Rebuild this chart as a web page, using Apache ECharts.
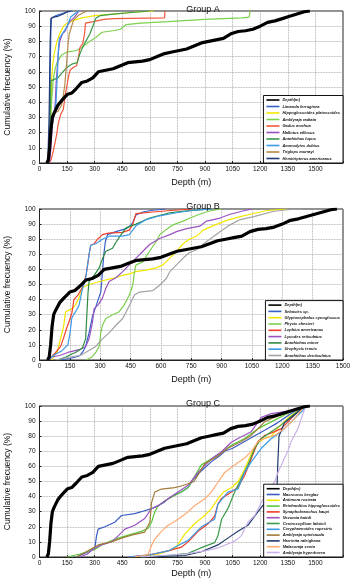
<!DOCTYPE html>
<html>
<head>
<meta charset="utf-8">
<script src="https://cdn.jsdelivr.net/npm/echarts@6/dist/echarts.min.js"></script>
<style>
  html, body { margin: 0; padding: 0; background: #fff; }
  #chart { width: 350px; height: 581px; }
</style>
</head>
<body>
<div id="chart"></div>
<script>
// depth sampled, same curve in every group: [depth m, cumulative %]
const depthCurve = [[40,0],[48,2],[55,10],[62,22],[70,30],[80,33],[100,38],[120,41],[150,45],[175,46],[200,49],[230,53],[260,54],[290,56],[320,60],[360,61],[400,62],[440,64],[480,66],[520,66.5],[560,67],[600,68],[640,70],[680,72],[720,73],[760,74],[800,75],[840,77],[880,79],[920,80],[960,81],[1000,82],[1040,85],[1080,86.5],[1120,87],[1160,88],[1200,90],[1240,92.5],[1280,93.5],[1320,95],[1360,96.5],[1400,98],[1440,99.5],[1470,100]]

// Group A
const limanda = [[48,0],[55,20],[58,60],[62,88],[65,95],[90,97],[140,99],[180,100]]
const hippoglossoides = [[50,0],[58,15],[62,35],[66,55],[72,65],[80,72],[95,80],[110,85],[130,90],[150,92],[190,94],[230,95.5],[300,97],[400,98],[500,99],[620,100]]
const amblyrajaRadiata = [[48,0],[55,10],[60,25],[65,40],[75,55],[85,62],[95,66],[120,71],[150,73],[200,74],[230,76],[260,79],[300,82],[340,86],[400,87],[440,88],[470,91],[550,92],[700,93],[900,94.5],[1100,95.5],[1140,96],[1145,100]]
const gadus = [[55,0],[65,3],[75,8],[84,13],[95,20],[102,26],[115,32],[129,35],[140,45],[148,50],[158,57],[166,61],[185,63],[202,64],[212,70],[220,76],[235,78.5],[245,85],[250,92],[270,92.5],[292,93],[350,94.5],[400,95],[680,95.5],[682,100]]
const mallotus = [[55,0],[62,10],[70,25],[80,33],[86,40],[90,52],[98,65],[102,72],[110,80],[125,85],[140,87],[150,90],[165,93],[190,96],[215,100]]
const anarhichasLupus = [[50,0],[55,10],[58,30],[62,54],[80,55],[100,56],[120,59],[150,63],[175,65],[205,66],[220,72],[238,77],[256,81],[274,85],[290,90],[305,95],[330,97],[400,98],[500,99],[600,100]]
const ammodytes = [[48,0],[55,10],[60,25],[68,30],[80,32],[90,40],[98,60],[103,75],[108,82],[130,86],[150,90],[170,96],[200,99],[215,100]]
const triglops = [[50,0],[58,15],[62,28],[70,32],[85,33],[100,34],[120,38],[130,45],[138,52],[145,62],[150,70],[155,78],[162,85],[175,90],[185,94],[210,97],[240,99],[260,100]]
const hemitripterus = [[45,0],[52,30],[58,80],[62,95],[75,96],[100,96.5],[130,98],[150,99.5],[170,100]]

// Group B
const sebastes = [[100,0],[150,1],[180,2],[200,3],[212,5],[228,9],[245,18],[262,29],[280,36],[295,42],[303,45],[311,58],[318,70],[325,78],[336,83],[378,85],[428,87],[450,89],[461,91],[477,96],[511,98],[550,99],[620,100]]
const glyptocephalus = [[60,0],[75,3],[87,5],[104,14],[120,23],[129,32],[162,34],[178,36.5],[195,41],[212,48],[245,50],[311,52.5],[361,54],[411,56],[444,57],[477,58.5],[527,59.5],[577,61],[610,63],[644,67.5],[677,72],[710,77],[740,80],[776,82],[809,86],[859,89],[926,92.5],[992,95],[1059,97],[1125,99],[1225,100]]
const phycis = [[230,0],[260,2],[278,5],[295,9],[303,18],[311,23],[328,27.5],[361,30],[394,32],[419,36.5],[444,43],[461,49.5],[469,58],[477,63],[511,65],[544,72],[577,78.5],[594,83],[627,86.5],[660,89.5],[710,92],[744,94],[800,97],[850,99],[900,100]]
const lophius = [[50,0],[65,3],[80,5],[104,9],[120,15],[129,19],[145,25],[160,31],[170,40],[190,43],[212,48],[230,56],[240,65],[245,70],[253,76],[270,77],[287,80],[311,83],[340,84],[410,84.5],[444,86],[461,90],[477,97],[560,98],[650,99],[750,100]]
const lycodes = [[40,0],[60,2],[100,3],[140,5],[200,7],[228,9],[245,14],[262,25],[270,34],[287,36],[311,41],[328,47.5],[344,52],[378,54.5],[411,58.5],[444,63],[477,67.5],[511,72],[544,76.5],[594,80.5],[644,83],[677,85],[727,87],[792,88.6],[826,92],[892,94],[942,96.5],[1000,98.5],[1050,100]]
const anarhichasMinor = [[90,0],[130,2],[160,4],[178,5],[212,8],[228,14],[234,30],[240,45],[245,52],[270,56],[295,61],[311,67],[328,72],[361,74],[378,78],[403,83],[428,87.5],[477,90],[511,92],[544,94],[644,97.5],[727,98.7],[850,100]]
const urophycis = [[45,0],[60,2],[80,4],[110,6],[140,10],[150,17],[160,28],[178,32],[195,36],[212,47],[228,54],[245,70],[253,76],[278,77],[311,80],[344,82],[411,82],[444,83],[461,86],[477,89],[527,93],[594,95.5],[677,97.5],[750,99],[850,100]]
const anarhichasDenticulatus = [[80,0],[150,2],[200,3],[228,5],[278,9],[311,14],[344,18],[378,23],[411,27.5],[444,36],[469,43],[494,45],[560,46],[594,49.5],[627,54],[644,58.5],[677,63],[710,67.5],[740,71],[776,73],[826,78.5],[892,85],[942,89.5],[992,93],[1059,95],[1159,98.5],[1225,99.5],[1300,100]]

// Group C
const macrourus = [[200,0],[247,2.5],[290,5],[301,6],[310,14],[319,18.5],[355,20],[409,23],[446,27.5],[518,28.7],[554,30],[609,32],[645,34],[681,36.5],[699,38.5],[735,41],[771,43],[808,46],[840,52],[870,56],[934,63],[980,67],[1007,70],[1050,72],[1079,74],[1151,79],[1224,84],[1296,89],[1368,95],[1441,100]]
const antimora = [[500,0],[650,2],[740,6],[789,15],[843,22],[898,27.5],[934,32],[970,38.5],[1000,43],[1045,46],[1080,50],[1115,58],[1150,68],[1190,76],[1230,79],[1260,80],[1300,86],[1350,92],[1440,100]]
const reinhardtius = [[150,0],[220,2],[260,3.5],[301,5],[337,8],[428,12.5],[482,14.5],[554,17],[591,19],[609,23],[627,30],[645,34],[699,38.5],[771,43],[808,46],[880,61],[970,67.5],[1043,74],[1115,78.5],[1188,85],[1260,89.5],[1332,94],[1441,100]]
const synaphobranchus = [[480,0],[600,1.5],[699,4],[771,6.5],[808,10],[862,17],[916,22],[952,27],[970,35],[988,38.5],[1043,43],[1079,46],[1115,54],[1151,65],[1188,76.5],[1224,80.5],[1278,83],[1315,85],[1386,94],[1441,100]]
const nezumia = [[220,0],[260,2],[280,4],[301,6],[337,8],[391,10],[428,14],[464,18.5],[518,21],[572,25.5],[609,32],[645,34],[699,38.5],[753,43],[808,47.5],[862,56],[934,65],[988,69.5],[1043,76],[1079,78.5],[1151,83],[1206,92.5],[1260,95],[1368,97],[1441,100]]
const centroscyllium = [[550,0],[700,1],[808,2.5],[898,7],[952,9.5],[970,14],[990,25],[1024,32],[1061,43],[1097,52],[1133,61],[1170,72],[1206,78.5],[1260,83],[1315,87.5],[1368,93],[1441,100]]
const coryphaenoides = [[480,0],[600,1.5],[700,4],[735,6.5],[808,11],[880,20],[952,25],[970,35],[1024,43],[1079,45],[1115,56],[1151,63],[1206,72],[1260,78.5],[1315,83],[1368,89.5],[1423,96],[1450,100]]
const amblyrajaSpinicauda = [[200,0],[247,3],[283,5.5],[319,8],[391,10],[446,12.5],[500,14.5],[572,16.5],[600,23],[609,36],[627,43],[663,45],[735,46],[771,47],[808,48.5],[840,50],[870,56],[900,62],[916,63],[970,67],[1024,72],[1097,76.5],[1151,80.5],[1188,85],[1224,89.5],[1278,92.5],[1386,97],[1441,100]]
const harriotta = [[600,0],[789,1],[880,3.5],[970,8],[1024,12.5],[1079,17],[1133,21],[1188,30],[1242,38.5],[1290,41],[1295,60],[1302,80],[1332,89],[1386,94],[1441,100]]
const malacoraja = [[520,0],[570,1],[591,2],[610,8],[627,12],[663,17],[699,21],[735,23.5],[771,26.5],[808,30],[843,34],[898,38.5],[934,43],[970,49.5],[1007,56],[1061,61],[1115,65.5],[1151,70],[1188,76.5],[1224,78.5],[1278,80.5],[1332,85],[1386,91.5],[1441,100]]
const amblyrajaHyperborea = [[550,0],[789,2],[900,4],[970,6],[1061,10.5],[1097,14],[1133,23],[1170,27.5],[1206,36],[1242,45],[1278,49.5],[1296,56],[1315,61],[1332,65.5],[1350,70],[1368,76.5],[1405,85],[1441,98],[1450,100]]

const groupA = [
  ['Limanda ferruginea', limanda, '#3565c4'],
  ['Hippoglossoides platessoides', hippoglossoides, '#f2e600'],
  ['Amblyraja radiata', amblyrajaRadiata, '#7cd04c'],
  ['Gadus morhua', gadus, '#f2583c'],
  ['Mallotus villosus', mallotus, '#9a52c0'],
  ['Anarhichas lupus', anarhichasLupus, '#3d9a4a'],
  ['Ammodytes dubius', ammodytes, '#3d9be6'],
  ['Triglops murrayi', triglops, '#b58a4c'],
  ['Hemitripterus americanus', hemitripterus, '#213a78']
]
const groupB = [
  ['Sebastes sp.', sebastes, '#3560c8'],
  ['Glyptocephalus cynoglossus', glyptocephalus, '#f2e600'],
  ['Phycis chesteri', phycis, '#7cd04c'],
  ['Lophius americanus', lophius, '#f2402a'],
  ['Lycodes reticulatus', lycodes, '#9a52c0'],
  ['Anarhichas minor', anarhichasMinor, '#2e8b3e'],
  ['Urophycis tenuis', urophycis, '#3d9be6'],
  ['Anarhichas denticulatus', anarhichasDenticulatus, '#a3a3a3']
]
const groupC = [
  ['Macrourus berglax', macrourus, '#3a5cc4'],
  ['Antimora rostrata', antimora, '#f2e600'],
  ['Reinhardtius hippoglossoides', reinhardtius, '#5ac83c'],
  ['Synaphobranchus kaupi', synaphobranchus, '#f23a28'],
  ['Nezumia bairdi', nezumia, '#9a52c0'],
  ['Centroscyllium fabricii', centroscyllium, '#3d9a4a'],
  ['Coryphaenoides rupestris', coryphaenoides, '#3d9be6'],
  ['Amblyraja spinicauda', amblyrajaSpinicauda, '#a07a3a'],
  ['Harriotta raleighana', harriotta, '#1f3a6a'],
  ['Malacoraja senta', malacoraja, '#ffab72'],
  ['Amblyraja hyperborea', amblyrajaHyperborea, '#c9b2e8']
]
const titles = ['Group A', 'Group B', 'Group C']

const font = 'Liberation Sans, Arial, sans-serif'
const chart = echarts.init(document.getElementById('chart'), null, {renderer: 'canvas'})

const grids = [
  {left: 39.5, top: 11, width: 303.5, height: 152},
  {left: 39.5, top: 209, width: 303.5, height: 151},
  {left: 39.5, top: 406, width: 303.5, height: 151}
]
const xMax = [1650, 1500, 1650]
const nameGaps = [15, 15, 12.5]
const legendBottoms = [418, 221, 24]
const legendGaps = [1.5, 1.3, 0.8]

const groups = [groupA, groupB, groupC]
let series = []
groups.forEach((g, i) => {
  series.push({
    name: 'Depth(m)', type: 'line', xAxisIndex: i, yAxisIndex: i,
    data: depthCurve, showSymbol: false, color: '#000',
    lineStyle: {width: 3.2, color: '#000'}, z: 3
  })
  g.forEach(([name, data, color]) => {
    series.push({
      name, type: 'line', xAxisIndex: i, yAxisIndex: i,
      data, showSymbol: false, color,
      lineStyle: {width: 1.2, color}, z: 2
    })
  })
})

const option = {
  animation: false,
  backgroundColor: '#fff',
  textStyle: {fontFamily: font},
  title: titles.map((t, i) => ({
    text: t, left: 198, top: [0, 197, 394][i], textAlign: 'center',
    textStyle: {fontSize: 9, fontWeight: 'normal', color: '#111', fontFamily: font}
  })),
  grid: grids.map(g => ({...g, outerBoundsMode: 'none', containLabel: false,
    show: true, borderColor: '#222', borderWidth: 1, backgroundColor: '#fff'})),
  legend: groups.map((g, i) => ({
    data: ['Depth(m)'].concat(g.map(s => s[0])),
    orient: 'vertical', right: 7, bottom: legendBottoms[i],
    icon: 'rect', itemWidth: 13, itemHeight: 1.6, itemGap: legendGaps[i],
    padding: [2, 3, 2, 3],
    backgroundColor: '#fff', borderColor: '#111', borderWidth: 1,
    selectedMode: false,
    textStyle: {fontSize: 4, lineHeight: 5, fontStyle: 'italic', fontWeight: 'bold', color: '#111', padding: [0, 0, 0, -2]}
  })),
  xAxis: grids.map((g, i) => ({
    type: 'value', gridIndex: i, min: 0, max: xMax[i], interval: 150,
    name: 'Depth (m)', nameLocation: 'middle', nameGap: nameGaps[i],
    nameTextStyle: {fontSize: 9, color: '#111'},
    axisLine: {show: true, lineStyle: {color: '#222', width: 1}},
    axisTick: {show: true, inside: true, length: 2, lineStyle: {color: '#222'}},
    axisLabel: {fontSize: 6.5, color: '#111', margin: 3,
      formatter: v => v > 1500 ? '' : v},
    splitLine: {show: true, lineStyle: {type: 'dotted', color: '#9a9a9a', width: 0.8}}
  })),
  yAxis: grids.map((g, i) => ({
    type: 'value', gridIndex: i, min: 0, max: 100, interval: 10,
    name: 'Cumulative frecuency (%)', nameLocation: 'middle', nameGap: 27,
    nameTextStyle: {fontSize: 8.5, color: '#111'},
    axisLine: {show: true, lineStyle: {color: '#222', width: 1}},
    axisTick: {show: true, inside: true, length: 2, lineStyle: {color: '#222'}},
    axisLabel: {fontSize: 6.5, color: '#111', margin: 4},
    splitLine: {show: true, lineStyle: {type: 'dotted', color: '#9a9a9a', width: 0.8}}
  })),
  series
}
chart.setOption(option)
</script>
</body>
</html>
